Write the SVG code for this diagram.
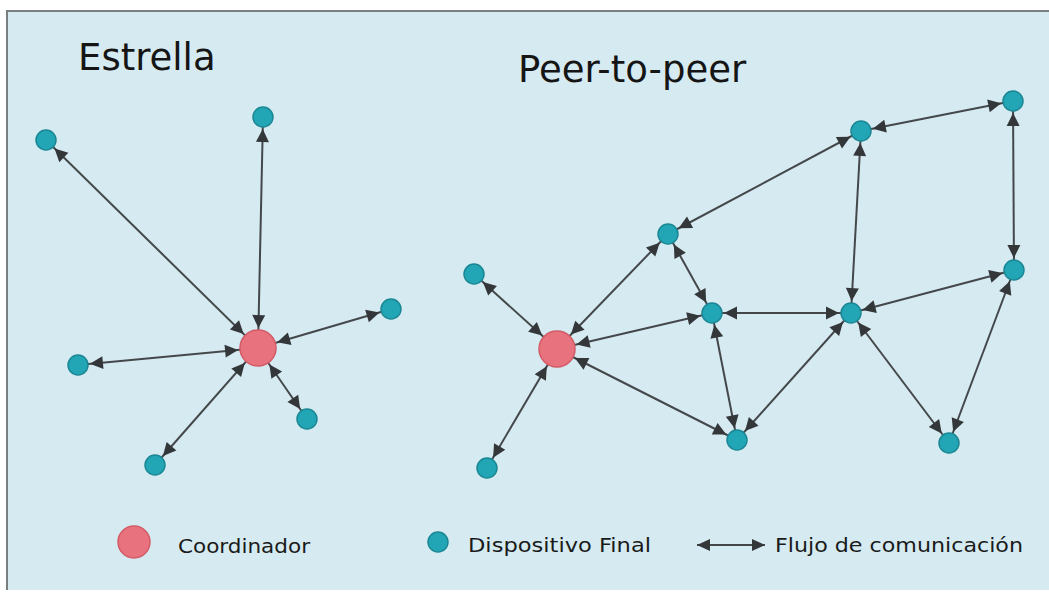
<svg xmlns="http://www.w3.org/2000/svg" width="1049" height="595" viewBox="0 0 1049 595">
<defs>
<style>
.bg{fill:#d5eaf1}
.frame{stroke:#7a7f82;stroke-width:2;fill:none}
.e{stroke:#45484b;stroke-width:2;fill:none}
.t{fill:#22a6b6;stroke:#1b8794;stroke-width:1.5}
.c{fill:#e8727d;stroke:#d25b66;stroke-width:1.5}
.title{font-family:"DejaVu Sans",Verdana,sans-serif;font-size:37px;fill:#151515}
.lg{font-family:"DejaVu Sans",Verdana,sans-serif;font-size:20px;fill:#1a1a1a}
.ts{stroke:#45484b;stroke-width:2;fill:none;marker-start:url(#mc);marker-end:url(#mt)}
.tt{stroke:#45484b;stroke-width:2;fill:none;marker-start:url(#mt);marker-end:url(#mt)}
</style>
<marker id="mt" markerUnits="userSpaceOnUse" viewBox="-40 -10 45 20" refX="0" refY="0" markerWidth="45" markerHeight="20" orient="auto-start-reverse" overflow="visible">
<path d="M-12,0 L-25,-6.5 L-25,6.5 Z" fill="#34373a"/>
</marker>
<marker id="mc" markerUnits="userSpaceOnUse" viewBox="-40 -10 45 20" refX="0" refY="0" markerWidth="45" markerHeight="20" orient="auto-start-reverse" overflow="visible">
<path d="M-20,0 L-33,-6.5 L-33,6.5 Z" fill="#34373a"/>
</marker>
<marker id="ml" markerUnits="userSpaceOnUse" viewBox="-15 -10 20 20" refX="0" refY="0" markerWidth="20" markerHeight="20" orient="auto-start-reverse" overflow="visible">
<path d="M0,0 L-13,-6 L-13,6 Z" fill="#34373a"/>
</marker>
</defs>
<rect x="0" y="0" width="1049" height="595" fill="#ffffff"/>
<rect class="bg" x="7" y="10" width="1042" height="580"/>
<path class="frame" d="M7,590 L7,11 L1049,11"/>

<text class="title" x="78" y="70">Estrella</text>
<text class="title" x="518" y="82">Peer-to-peer</text>

<g id="connectors">
<!-- Star -->
<line class="ts" x1="258" y1="348" x2="46" y2="140"/>
<line class="ts" x1="258" y1="348" x2="263" y2="117"/>
<line class="ts" x1="258" y1="348" x2="391" y2="309"/>
<line class="ts" x1="258" y1="348" x2="78" y2="365"/>
<line class="ts" x1="258" y1="348" x2="307" y2="419"/>
<line class="ts" x1="258" y1="348" x2="155" y2="465"/>
<!-- Peer-to-peer -->
<line class="ts" x1="557" y1="349" x2="474" y2="274"/>
<line class="ts" x1="557" y1="349" x2="668" y2="234"/>
<line class="ts" x1="557" y1="349" x2="712" y2="313"/>
<line class="ts" x1="557" y1="349" x2="737" y2="440"/>
<line class="ts" x1="557" y1="349" x2="487" y2="468"/>
<line class="tt" x1="668" y1="234" x2="861" y2="131"/>
<line class="tt" x1="668" y1="234" x2="712" y2="313"/>
<line class="tt" x1="861" y1="131" x2="1013" y2="101"/>
<line class="tt" x1="861" y1="131" x2="851" y2="313"/>
<line class="tt" x1="1013" y1="101" x2="1014" y2="270"/>
<line class="tt" x1="712" y1="313" x2="851" y2="313"/>
<line class="tt" x1="712" y1="313" x2="737" y2="440"/>
<line class="tt" x1="851" y1="313" x2="1014" y2="270"/>
<line class="tt" x1="851" y1="313" x2="737" y2="440"/>
<line class="tt" x1="851" y1="313" x2="949" y2="443"/>
<line class="tt" x1="1014" y1="270" x2="949" y2="443"/>
</g>

<g id="star-coordinator"><circle class="c" cx="258" cy="348" r="18"/></g>
<g id="star-n1"><circle class="t" cx="46" cy="140" r="10"/></g>
<g id="star-n2"><circle class="t" cx="263" cy="117" r="10"/></g>
<g id="star-n3"><circle class="t" cx="391" cy="309" r="10"/></g>
<g id="star-n4"><circle class="t" cx="78" cy="365" r="10"/></g>
<g id="star-n5"><circle class="t" cx="307" cy="419" r="10"/></g>
<g id="star-n6"><circle class="t" cx="155" cy="465" r="10"/></g>

<g id="p2p-coordinator"><circle class="c" cx="557" cy="349" r="18"/></g>
<g id="p2p-n1"><circle class="t" cx="474" cy="274" r="10"/></g>
<g id="p2p-n2"><circle class="t" cx="668" cy="234" r="10"/></g>
<g id="p2p-n3"><circle class="t" cx="861" cy="131" r="10"/></g>
<g id="p2p-n4"><circle class="t" cx="1013" cy="101" r="10"/></g>
<g id="p2p-n5"><circle class="t" cx="712" cy="313" r="10"/></g>
<g id="p2p-n6"><circle class="t" cx="851" cy="313" r="10"/></g>
<g id="p2p-n7"><circle class="t" cx="1014" cy="270" r="10"/></g>
<g id="p2p-n8"><circle class="t" cx="737" cy="440" r="10"/></g>
<g id="p2p-n9"><circle class="t" cx="949" cy="443" r="10"/></g>
<g id="p2p-n10"><circle class="t" cx="487" cy="468" r="10"/></g>

<g id="legend">
<circle class="c" cx="134" cy="542" r="16"/>
<text class="lg" x="178" y="553" textLength="132" lengthAdjust="spacingAndGlyphs">Coordinador</text>
<circle class="t" cx="438" cy="542" r="10"/>
<text class="lg" x="468" y="552" textLength="183" lengthAdjust="spacingAndGlyphs">Dispositivo Final</text>
<line class="e" x1="697" y1="545" x2="765" y2="545" style="marker-start:url(#ml);marker-end:url(#ml)"/>
<text class="lg" x="775" y="552" textLength="248" lengthAdjust="spacingAndGlyphs">Flujo de comunicación</text>
</g>
</svg>
